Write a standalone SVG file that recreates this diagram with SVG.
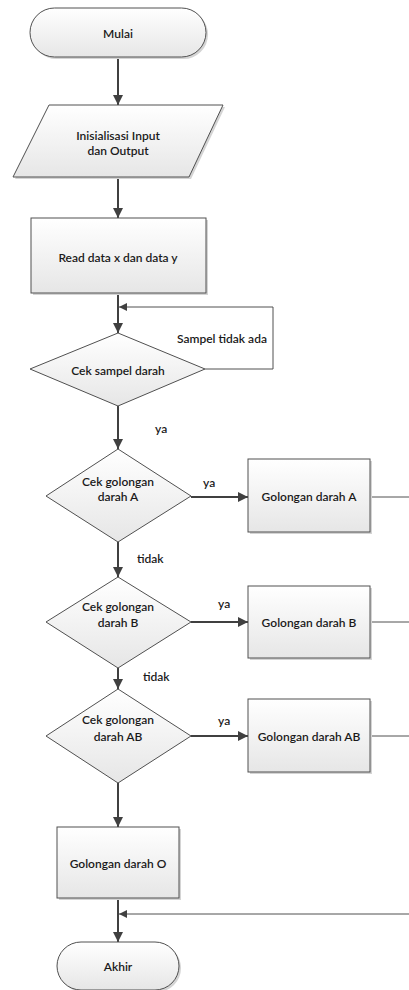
<svg xmlns="http://www.w3.org/2000/svg" width="409" height="990" viewBox="0 0 409 990">
<defs>
<linearGradient id="g" x1="0" y1="0" x2="0" y2="1">
<stop offset="0" stop-color="#ffffff"/>
<stop offset="1" stop-color="#e6e6e6"/>
</linearGradient>
<marker id="ah" viewBox="0 0 10 10" refX="10" refY="5" markerWidth="5" markerHeight="5" orient="auto" markerUnits="strokeWidth">
<path d="M0,0 L10,5 L0,10 Z" fill="#404040"/>
</marker>
<marker id="ah2" viewBox="0 0 10 10" refX="10" refY="5" markerWidth="9" markerHeight="8" orient="auto" markerUnits="userSpaceOnUse">
<path d="M0,0 L10,5 L0,10 Z" fill="#404040"/>
</marker>
</defs>
<style>
.s{fill:url(#g);stroke:#505050;stroke-width:1}
.sh{fill:#d4d4d4;stroke:none}
.t{font-family:Lato,"Liberation Sans",sans-serif;font-size:12px;font-weight:600;fill:#1a1a1a;text-anchor:middle;dominant-baseline:central}
.l{font-family:Lato,"Liberation Sans",sans-serif;font-size:12px;font-weight:600;fill:#1a1a1a;dominant-baseline:central}
.c{fill:none;stroke:#404040;stroke-width:2}
.c1{fill:none;stroke:#505050;stroke-width:1}
</style>
<g id="connectors">
<line class="c" x1="118" y1="57" x2="118" y2="105" marker-end="url(#ah)"/>
<line class="c" x1="118" y1="177" x2="118" y2="218" marker-end="url(#ah)"/>
<line class="c" x1="118" y1="293" x2="118" y2="333" marker-end="url(#ah)"/>
<polyline class="c1" points="205,369 273,369 273,307 119,307" marker-end="url(#ah2)"/>
<line class="c" x1="118" y1="406" x2="118" y2="449" marker-end="url(#ah)"/>
<line class="c" x1="191" y1="497" x2="248" y2="497" marker-end="url(#ah)"/>
<line class="c" x1="118" y1="542" x2="118" y2="577" marker-end="url(#ah)"/>
<line class="c" x1="191" y1="622" x2="248" y2="622" marker-end="url(#ah)"/>
<line class="c" x1="118" y1="668" x2="118" y2="689" marker-end="url(#ah)"/>
<line class="c" x1="191" y1="736" x2="248" y2="736" marker-end="url(#ah)"/>
<line class="c" x1="118" y1="783" x2="118" y2="827" marker-end="url(#ah)"/>
<line class="c" x1="118" y1="898" x2="118" y2="942" marker-end="url(#ah)"/>
<line class="c1" x1="370" y1="497" x2="409" y2="497"/>
<line class="c1" x1="370" y1="622" x2="409" y2="622"/>
<line class="c1" x1="370" y1="736" x2="409" y2="736"/>
<line class="c1" x1="409" y1="914" x2="119" y2="914" marker-end="url(#ah2)"/>
<text class="l" x="177" y="338">Sampel tidak ada</text>
<text class="l" x="155" y="428">ya</text>
<text class="l" x="203" y="482">ya</text>
<text class="l" x="137" y="558">tidak</text>
<text class="l" x="218" y="603">ya</text>
<text class="l" x="143" y="676">tidak</text>
<text class="l" x="218" y="720">ya</text>
</g>
<g id="mulai">
<rect class="sh" x="32" y="10" width="176" height="49" rx="24.5"/>
<rect class="s" x="30" y="8" width="176" height="49" rx="24.5"/>
<text class="t" x="118" y="33">Mulai</text>
</g>
<g id="input">
<polygon class="sh" points="51,107 225,107 191,179 15,179"/>
<polygon class="s" points="49,105 223,105 189,177 13,177"/>
<text class="t" x="118" y="135">Inisialisasi Input</text>
<text class="t" x="118" y="150">dan Output</text>
</g>
<g id="read">
<rect class="sh" x="33" y="220" width="175" height="75"/>
<rect class="s" x="31" y="218" width="175" height="75"/>
<text class="t" x="118" y="257">Read data x dan data y</text>
</g>
<g id="cek-sampel">
<polygon class="s" points="118,333 205,369 118,406 30,369"/>
<text class="t" x="118" y="370">Cek sampel darah</text>
</g>
<g id="cek-a">
<polygon class="s" points="118,449 191,496 118,542 46,496"/>
<text class="t" x="118" y="481">Cek golongan</text>
<text class="t" x="118" y="496">darah A</text>
</g>
<g id="gol-a">
<rect class="sh" x="250" y="461" width="122" height="73"/>
<rect class="s" x="248" y="459" width="122" height="73"/>
<text class="t" x="309" y="496">Golongan darah A</text>
</g>
<g id="cek-b">
<polygon class="s" points="118,577 191,622 118,668 46,622"/>
<text class="t" x="118" y="606">Cek golongan</text>
<text class="t" x="118" y="622">darah B</text>
</g>
<g id="gol-b">
<rect class="sh" x="250" y="588" width="122" height="72"/>
<rect class="s" x="248" y="586" width="122" height="72"/>
<text class="t" x="309" y="622">Golongan darah B</text>
</g>
<g id="cek-ab">
<polygon class="s" points="118,689 191,736 118,783 46,736"/>
<text class="t" x="118" y="719">Cek golongan</text>
<text class="t" x="118" y="736">darah AB</text>
</g>
<g id="gol-ab">
<rect class="sh" x="250" y="701" width="122" height="73"/>
<rect class="s" x="248" y="699" width="122" height="73"/>
<text class="t" x="309" y="736">Golongan darah AB</text>
</g>
<g id="gol-o">
<rect class="sh" x="59" y="829" width="122" height="71"/>
<rect class="s" x="57" y="827" width="122" height="71"/>
<text class="t" x="118" y="863">Golongan darah O</text>
</g>
<g id="akhir">
<rect class="sh" x="59" y="944" width="122" height="48" rx="24"/>
<rect class="s" x="57" y="942" width="122" height="48" rx="24"/>
<text class="t" x="118" y="966">Akhir</text>
</g>
</svg>
